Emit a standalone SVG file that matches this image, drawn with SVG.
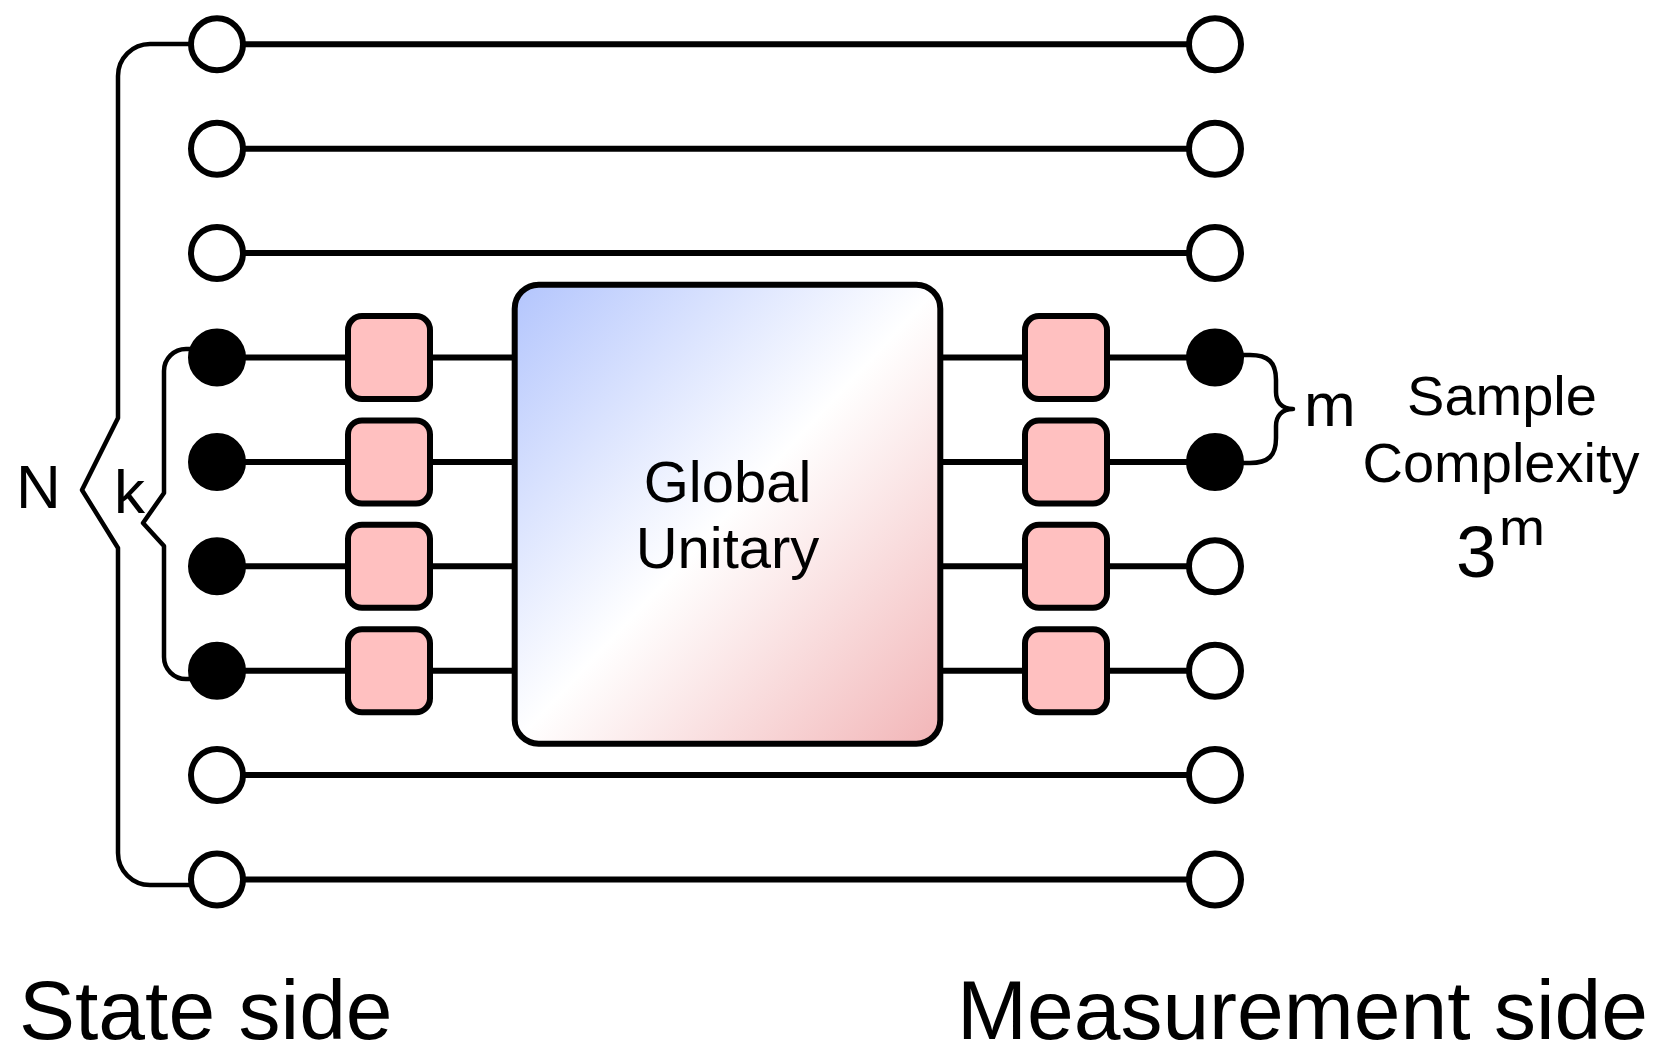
<svg xmlns="http://www.w3.org/2000/svg" width="1656" height="1047" viewBox="0 0 1656 1047">
  <defs>
    <linearGradient id="unitaryFill" x1="0" y1="0" x2="1" y2="1">
      <stop offset="0" stop-color="#b3c5fd"/>
      <stop offset="0.5" stop-color="#ffffff"/>
      <stop offset="1" stop-color="#f2b5b7"/>
    </linearGradient>
    <style>
      .wire { stroke: #000; stroke-width: 6; fill: none; }
      .brace { stroke: #000; stroke-width: 4.5; fill: none; stroke-linejoin: round; stroke-linecap: butt; }
      .open { fill: #fff; stroke: #000; stroke-width: 6; }
      .filled { fill: #000; stroke: #000; stroke-width: 6; }
      .gate { fill: #ffc0c0; stroke: #000; stroke-width: 6; }
      .unitary { fill: url(#unitaryFill); stroke: #000; stroke-width: 6; }
      text { font-family: "Liberation Sans", Arial, Helvetica, sans-serif; fill: #000; }
      .lbl { font-size: 62px; }
      .mid { font-size: 58px; text-anchor: middle; }
      .side { font-size: 56px; text-anchor: middle; }
      .foot { font-size: 84px; }
    </style>
  </defs>
  <rect width="1656" height="1047" fill="#fff"/>

  <!-- qubit wires and grouping braces -->
  <g id="connectors">
    <line class="wire" x1="217" y1="44.3" x2="1215" y2="44.3"/>
    <line class="wire" x1="217" y1="148.7" x2="1215" y2="148.7"/>
    <line class="wire" x1="217" y1="253.1" x2="1215" y2="253.1"/>
    <line class="wire" x1="217" y1="357.5" x2="1215" y2="357.5"/>
    <line class="wire" x1="217" y1="461.9" x2="1215" y2="461.9"/>
    <line class="wire" x1="217" y1="566.3" x2="1215" y2="566.3"/>
    <line class="wire" x1="217" y1="670.7" x2="1215" y2="670.7"/>
    <line class="wire" x1="217" y1="775.1" x2="1215" y2="775.1"/>
    <line class="wire" x1="217" y1="879.5" x2="1215" y2="879.5"/>
    <path id="brace-N" class="brace" d="M 192 44 H 150 A 32 32 0 0 0 118 76 V 418 L 82 490 L 118 548 V 853 A 32 32 0 0 0 150 885 H 192"/>
    <path id="brace-k" class="brace" d="M 192 349 H 186 A 22 22 0 0 0 164 371 V 493 L 143 523 L 164 546 V 657 A 22 22 0 0 0 186 679 H 192"/>
    <path id="brace-m" class="brace" d="M 1240 355 H 1250 C 1268 355 1276 362 1276 380 V 392 C 1276 402 1282 409 1293 409 C 1282 409 1276 416 1276 426 V 438 C 1276 456 1268 463 1250 463 H 1240"/>
  </g>

  <!-- state-side qubits -->
  <g id="in-1"><circle class="open" cx="217" cy="44.3" r="26"/></g>
  <g id="in-2"><circle class="open" cx="217" cy="148.7" r="26"/></g>
  <g id="in-3"><circle class="open" cx="217" cy="253.1" r="26"/></g>
  <g id="in-4"><circle class="filled" cx="217" cy="357.5" r="26"/></g>
  <g id="in-5"><circle class="filled" cx="217" cy="461.9" r="26"/></g>
  <g id="in-6"><circle class="filled" cx="217" cy="566.3" r="26"/></g>
  <g id="in-7"><circle class="filled" cx="217" cy="670.7" r="26"/></g>
  <g id="in-8"><circle class="open" cx="217" cy="775.1" r="26"/></g>
  <g id="in-9"><circle class="open" cx="217" cy="879.5" r="26"/></g>

  <!-- measurement-side qubits -->
  <g id="out-1"><circle class="open" cx="1215" cy="44.3" r="26"/></g>
  <g id="out-2"><circle class="open" cx="1215" cy="148.7" r="26"/></g>
  <g id="out-3"><circle class="open" cx="1215" cy="253.1" r="26"/></g>
  <g id="out-4"><circle class="filled" cx="1215" cy="357.5" r="26"/></g>
  <g id="out-5"><circle class="filled" cx="1215" cy="461.9" r="26"/></g>
  <g id="out-6"><circle class="open" cx="1215" cy="566.3" r="26"/></g>
  <g id="out-7"><circle class="open" cx="1215" cy="670.7" r="26"/></g>
  <g id="out-8"><circle class="open" cx="1215" cy="775.1" r="26"/></g>
  <g id="out-9"><circle class="open" cx="1215" cy="879.5" r="26"/></g>

  <!-- local gates before the global unitary -->
  <g id="gate-l4"><rect class="gate" x="348" y="316" width="82" height="83" rx="14"/></g>
  <g id="gate-l5"><rect class="gate" x="348" y="420.4" width="82" height="83" rx="14"/></g>
  <g id="gate-l6"><rect class="gate" x="348" y="524.8" width="82" height="83" rx="14"/></g>
  <g id="gate-l7"><rect class="gate" x="348" y="629.2" width="82" height="83" rx="14"/></g>

  <!-- local gates after the global unitary -->
  <g id="gate-r4"><rect class="gate" x="1025" y="316" width="82" height="83" rx="14"/></g>
  <g id="gate-r5"><rect class="gate" x="1025" y="420.4" width="82" height="83" rx="14"/></g>
  <g id="gate-r6"><rect class="gate" x="1025" y="524.8" width="82" height="83" rx="14"/></g>
  <g id="gate-r7"><rect class="gate" x="1025" y="629.2" width="82" height="83" rx="14"/></g>

  <!-- global unitary -->
  <g id="global-unitary">
    <rect class="unitary" x="514.7" y="284.7" width="425.6" height="459" rx="24"/>
    <text class="mid" x="727.5" y="502">Global</text>
    <text class="mid" x="727.5" y="568">Unitary</text>
  </g>

  <!-- labels -->
  <text class="lbl" x="16" y="508">N</text>
  <text class="lbl" x="114" y="513">k</text>
  <text class="lbl" x="1304" y="426">m</text>
  <g id="sample-complexity">
    <text class="side" x="1502" y="415">Sample</text>
    <text class="side" x="1501" y="482" font-size="57">Complexity</text>
    <text x="1456" y="577" font-size="73">3</text>
    <text x="1499" y="545" font-size="52" textLength="46" lengthAdjust="spacingAndGlyphs">m</text>
  </g>
  <text class="foot" x="19" y="1039">State side</text>
  <text class="foot" x="1648" y="1039" text-anchor="end">Measurement side</text>
</svg>
